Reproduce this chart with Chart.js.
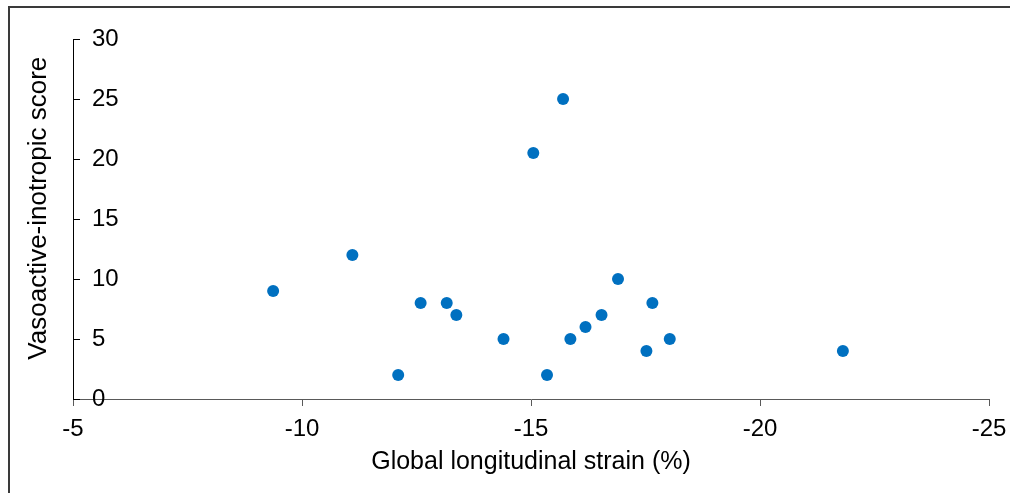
<!DOCTYPE html>
<html>
<head>
<meta charset="utf-8">
<script src="https://cdn.jsdelivr.net/npm/chart.js@4/dist/chart.umd.min.js"></script>
<style>
  html, body { margin: 0; padding: 0; background: #fff; }
  body { width: 1010px; height: 493px; position: relative; overflow: hidden; }
  .fl { position: absolute; background: #3a3a3a; }
  #ftop { left: 8px; top: 6px; width: 1002px; height: 2px; }
  #fleft { left: 8px; top: 6px; width: 2px; height: 487px; }
  #wrap { position: absolute; left: 0; top: 0; width: 1010px; height: 493px; }
</style>
</head>
<body>
<div class="fl" id="ftop"></div>
<div class="fl" id="fleft"></div>
<div id="wrap"><canvas id="c" width="1010" height="493"></canvas></div>
<script>
// Global longitudinal strain (%) per patient
const gls = [-9.37, -11.10, -12.10, -12.59, -13.16, -13.37, -14.40, -15.05, -15.35,
             -15.70, -15.86, -16.19, -16.54, -16.90, -17.52, -17.65, -18.03, -21.81];
// Vasoactive-inotropic score per patient
const vis = [9, 12, 2, 8, 8, 7, 5, 20.5, 2, 25, 5, 6, 7, 10, 4, 8, 5, 4];

const xTitle = "Global longitudinal strain (%)";
const yTitle = "Vasoactive-inotropic score";
const xRange = { min: -25, max: -5, step: 5 };
const yRange = { min: 0, max: 30, step: 5 };

const FONT = "'Liberation Sans', Arial, sans-serif";

const points = gls.map((g, i) => ({ x: g, y: vis[i] }));

// draw y-axis tick marks pointing inward (to the right of the axis)
const inwardTicks = {
  id: 'inwardTicks',
  afterDraw(chart) {
    const ys = chart.scales.y;
    const ctx = chart.ctx;
    const x0 = chart.chartArea.left;
    ctx.save();
    ctx.strokeStyle = '#000';
    ctx.lineWidth = 1;
    ys.ticks.forEach((t, i) => {
      const y = Math.round(ys.getPixelForTick(i)) + 0.5;
      ctx.beginPath();
      ctx.moveTo(x0, y);
      ctx.lineTo(x0 + 7, y);
      ctx.stroke();
    });
    ctx.restore();
  }
};

new Chart(document.getElementById('c'), {
  type: 'scatter',
  data: {
    datasets: [{
      data: points,
      backgroundColor: 'rgb(0,112,192)',
      borderColor: 'rgb(0,112,192)',
      pointRadius: 6,
      pointHoverRadius: 6,
      borderWidth: 0
    }]
  },
  options: {
    responsive: false,
    animation: false,
    events: [],
    layout: { padding: { left: 0, top: 39, right: 21, bottom: 0 } },
    plugins: { legend: { display: false }, tooltip: { enabled: false } },
    scales: {
      x: {
        type: 'linear',
        reverse: true,
        min: xRange.min, max: xRange.max,
        afterFit(s) { s.height = 94; s.paddingRight = 0; s.paddingLeft = 0; },
        ticks: { stepSize: xRange.step, color: '#000', padding: 9,
                 font: { family: FONT, size: 24 } },
        grid: { display: true, drawOnChartArea: false, drawTicks: true, tickLength: 7,
                color: '#595959', lineWidth: 1 },
        border: { display: true, color: '#595959', width: 1 },
        title: { display: true, text: xTitle, color: '#000',
                 font: { family: FONT, size: 25 }, padding: { top: 0, bottom: 16 } }
      },
      y: {
        type: 'linear',
        min: yRange.min, max: yRange.max,
        afterFit(s) { s.width = 73; },
        ticks: { stepSize: yRange.step, color: '#000', mirror: true, padding: 19,
                 font: { family: FONT, size: 24 } },
        grid: { display: false, drawTicks: false },
        border: { display: true, color: '#000', width: 1 },
        title: { display: true, text: '   ' + yTitle, color: '#000',
                 font: { family: FONT, size: 26 }, padding: { top: 23, bottom: 0 } }
      }
    }
  },
  plugins: [inwardTicks]
});
</script>
</body>
</html>
